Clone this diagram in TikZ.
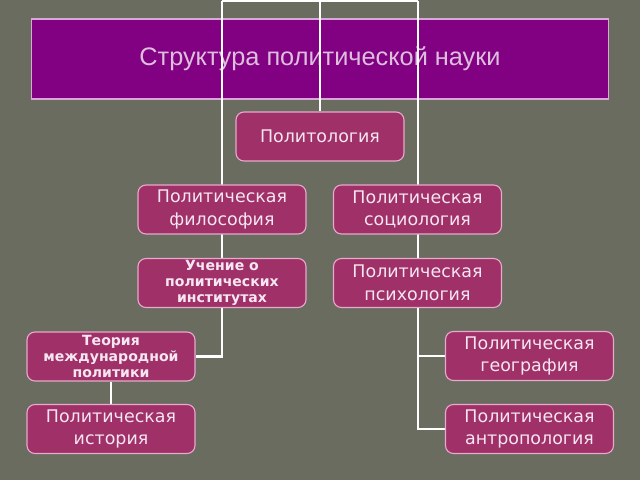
\documentclass[tikz,border=0pt]{standalone}
\usepackage{fontspec}
\setmainfont{DejaVu Sans}
\newfontfamily\titlefont{Liberation Sans}
\pgfdeclarelayer{back}
\pgfdeclarelayer{wires}
\pgfsetlayers{back,wires,main}
\definecolor{bgolive}{HTML}{6A6C60}
\definecolor{titlefill}{HTML}{820082}
\definecolor{titleedge}{HTML}{D8A8D8}
\definecolor{titletext}{HTML}{DDBFDD}
\definecolor{boxfill}{HTML}{A03068}
\definecolor{boxedge}{HTML}{E6AACB}
\definecolor{boxtext}{HTML}{F6E6F2}
\begin{document}
\begin{tikzpicture}[x=0.025cm,y=-0.025cm,
        box/.style={draw=boxedge,fill=boxfill,rounded corners=0.2cm,line width=0.8pt,
            minimum width=4.2cm,minimum height=1.225cm,inner sep=0pt,align=center,
            text=boxtext,font=\fontsize{12.4}{16}\selectfont},
        boldbox/.style={box,font=\fontsize{10}{11.6}\selectfont\bfseries},
        wire/.style={draw=white,line width=1.5pt}]
        \useasboundingbox (0,0) rectangle (640,480);
        \begin{pgfonlayer}{back}
            \fill[bgolive] (0,0) rectangle (640,480);
            \node[draw=titleedge,fill=titlefill,line width=0.8pt,minimum width=14.4cm,minimum height=2cm,
                text=titletext,font=\titlefont\fontsize{18}{22}\selectfont] (title) at (320,59) {Структура политической науки};
        \end{pgfonlayer}

        \node[box] (polit) at (320,136.5) {Политология};
        \foreach \n/\x/\y/\t in {phil/222/209.5/{Политическая\\философия}, soc/417.5/209.5/{Политическая\\социология},
                psych/417.5/283/{Политическая\\психология}, hist/111/429/{Политическая\\история},
                geo/529.5/356/{Политическая\\география}, anthro/529.5/429/{Политическая\\антропология}}{
            \node[box] (\n) at (\x,\y) {\t};
        }
        \node[boldbox] (inst) at (222,283) {Учение о\\политических\\институтах};
        \node[boldbox] (theory) at (111,356.5) {Теория\\международной\\политики};

        \begin{pgfonlayer}{wires}
            \coordinate (tl) at (222,1);
            \coordinate (tm) at (320,1);
            \coordinate (tr) at (418,1);
            \draw[wire] (tl) -- (tr);
            \draw[wire] (tm) -- (polit.north);
            \draw[wire] (tl) |- (theory.east);
            \draw[wire] (tr) |- (geo.west);
            \draw[wire] (tr) |- (anthro.west);
            \draw[wire] (theory.south) -- (hist.north);
        \end{pgfonlayer}
\end{tikzpicture}
\end{document}
